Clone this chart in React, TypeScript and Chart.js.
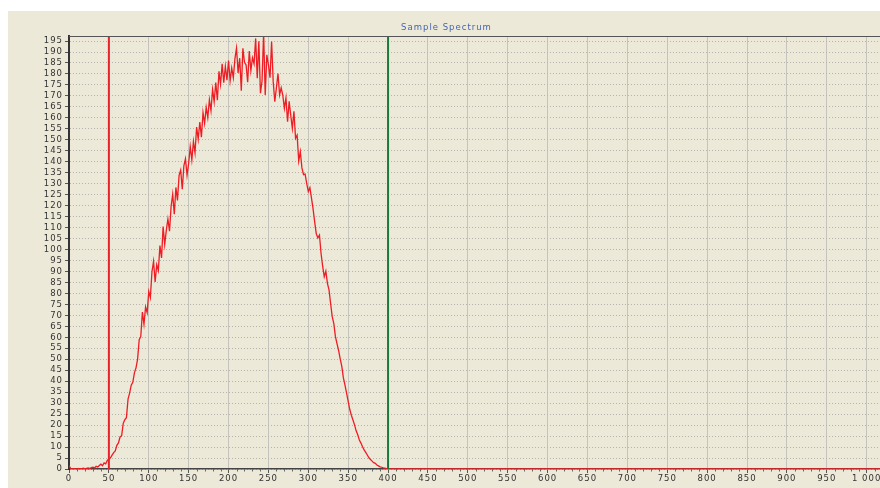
import React, { useEffect, useRef } from 'react';
import { Chart, registerables } from 'chart.js';

Chart.register(...registerables);

// ---- data ----
const chartTitle = 'Sample Spectrum';
const channelStep = 2; // spacing of the sampled channels below
// counts read from the picture, channels 0,2,4,...,400
const counts = [
  1.5, 0.3, 0, 0.2, 0, 0, 0.3, 0, 0.2, 0.4,
  0.1, 0.3, 0.5, 0.2, 0.6, 0.8, 0.5, 1.2, 0.9, 1.6,
  2.2, 1.5, 2.8, 2.4, 3.9, 4.5, 5.1, 6.3, 7.5, 8.2,
  10.8, 11.9, 14.6, 15.2, 20.8, 22.5, 23.4, 31.8, 34.6, 38.2,
  39.5, 43.8, 46.1, 50.1, 58.9, 60.4, 71.5, 66.0, 73.8, 71.2,
  80.9, 78.1, 89.9, 94.6, 85.2, 93.1, 90.4, 101.8, 96.2, 110.5,
  102.3, 108.7, 113.9, 108.4, 119.6, 125.2, 116.1, 128.3, 122.4, 133.8,
  136.2, 127.5, 138.1, 141.3, 133.9, 139.2, 146.9, 140.8, 149.2, 144.1,
  155.8, 150.3, 158.1, 151.2, 162.4, 157.5, 164.8, 160.1, 168.2, 163.3,
  172.9, 167.4, 176.1, 168.0, 181.2, 175.3, 184.6, 176.0, 183.5, 177.2,
  186.1, 176.9, 182.7, 178.3, 186.9, 191.8, 180.5, 187.2, 172.4, 191.7,
  185.3, 184.1, 176.2, 190.4, 181.5, 187.3, 184.6, 196.2, 178.1, 194.9,
  171.2, 176.8, 198.5, 170.4, 188.7, 184.2, 178.3, 194.8, 176.5, 167.4,
  173.6, 180.2, 170.5, 173.7, 170.4, 164.3, 169.1, 158.2, 167.5, 161.1,
  155.2, 163.0, 150.7, 152.1, 140.3, 144.6, 137.2, 134.1, 134.4, 130.1,
  126.4, 128.2, 123.4, 118.5, 112.6, 107.2, 105.3, 106.6, 98.2, 92.4,
  87.6, 90.1, 84.6, 81.6, 75.3, 69.4, 66.2, 60.3, 57.1, 54.0,
  50.2, 46.8, 41.5, 38.2, 34.6, 30.8, 27.1, 24.5, 22.3, 20.1,
  17.4, 15.6, 13.2, 11.8, 10.1, 8.7, 7.6, 6.4, 5.1, 4.3,
  3.6, 2.9, 2.6, 1.8, 1.4, 1.0, 0.8, 0.5, 0.4, 0.2,
  0,
];
const lastChannel = 1023; // counts stay at zero up to the last channel
const lastChannelCount = 0;
const xMin = 0;
const xMax = 1023;
const xLastLabel = 1000;
const xTickStep = 50;
const xMinorStep = 10;
const yMin = 0;
const yMax = 197.3;
const yLastLabel = 195;
const yTickStep = 5;
const lowMarker = 50;
const highMarker = 400;

const FONT = 'DejaVu Sans';
const LETTER_SPACING = '1px';

function formatThousands(v: number): string {
  return String(v).replace(/\B(?=(\d{3})+(?!\d))/g, ' ');
}

const decorPlugin = {
  id: 'decor',
  beforeLayout(chart: any) {
    chart.ctx.letterSpacing = LETTER_SPACING;
  },
  beforeDraw(chart: any) {
    const { ctx, width, height } = chart;
    ctx.letterSpacing = LETTER_SPACING;
    ctx.save();
    ctx.fillStyle = '#ECE9D8';
    ctx.fillRect(0, 0, width, height);
    ctx.restore();
  },
  afterDraw(chart: any) {
    const { ctx, chartArea } = chart;
    const xs = chart.scales.x;
    ctx.save();
    // top frame line
    ctx.strokeStyle = '#555555';
    ctx.lineWidth = 1;
    ctx.beginPath();
    ctx.moveTo(chartArea.left, chartArea.top + 0.5);
    ctx.lineTo(chartArea.right, chartArea.top + 0.5);
    ctx.stroke();
    // minor ticks on x axis
    ctx.strokeStyle = '#666666';
    ctx.beginPath();
    for (let v = xMin; v <= xMax; v += xMinorStep) {
      if (v % xTickStep === 0) continue;
      const px = Math.round(xs.getPixelForValue(v)) + 0.5;
      ctx.moveTo(px, chartArea.bottom);
      ctx.lineTo(px, chartArea.bottom + 2.5);
    }
    ctx.stroke();
    ctx.restore();
  },
};

function stepTicks(from: number, to: number, step: number) {
  const out: { value: number }[] = [];
  for (let v = from; v <= to + 1e-9; v += step) out.push({ value: v });
  return out;
}

export default function App() {
  const ref = useRef<HTMLCanvasElement | null>(null);

  useEffect(() => {
    if (!ref.current) return;
    const spectrum = counts.map((c, i) => ({ x: i * channelStep, y: c }));
    spectrum.push({ x: lastChannel, y: lastChannelCount });

    const chart = new Chart(ref.current, {
      type: 'line',
      data: {
        datasets: [
          {
            label: 'low',
            data: [
              { x: lowMarker, y: yMin },
              { x: lowMarker, y: yMax },
            ],
            borderColor: '#e8202a',
            borderWidth: 2,
            pointRadius: 0,
          },
          {
            label: 'high',
            data: [
              { x: highMarker, y: yMin },
              { x: highMarker, y: yMax },
            ],
            borderColor: '#17793a',
            borderWidth: 2,
            pointRadius: 0,
          },
          {
            label: 'spectrum',
            data: spectrum,
            borderColor: '#ee1c24',
            borderWidth: 1.3,
            pointRadius: 0,
            tension: 0,
          },
        ],
      },
      options: {
        animation: false,
        responsive: false,
        devicePixelRatio: 1,
        parsing: false as any,
        layout: { padding: { left: 0, right: 33, top: 0, bottom: 0 } },
        plugins: {
          legend: { display: false },
          tooltip: { enabled: false },
          title: {
            display: true,
            text: chartTitle,
            color: '#4464b4',
            font: { family: FONT, size: 8.5, weight: 'normal' },
            padding: { top: 11.9, bottom: 2.9 },
          },
        },
        scales: {
          x: {
            type: 'linear',
            min: xMin,
            max: xMax,
            afterBuildTicks: (s: any) => {
              s.ticks = stepTicks(xMin, xLastLabel, xTickStep);
            },
            afterFit: (s: any) => {
              s.height = 19;
            },
            ticks: {
              autoSkip: false,
              maxRotation: 0,
              color: '#333333',
              padding: 1,
              font: { family: FONT, size: 8.5 },
              callback: (v: any) => formatThousands(Number(v)),
            },
            grid: {
              color: '#c4c4bc',
              lineWidth: 1,
              tickLength: 4,
              tickColor: '#555555',
            },
            border: { color: '#444444', width: 1.5 },
          },
          y: {
            type: 'linear',
            min: yMin,
            max: yMax,
            afterBuildTicks: (s: any) => {
              s.ticks = stepTicks(yMin, yLastLabel, yTickStep);
            },
            afterFit: (s: any) => {
              s.width = 61;
            },
            ticks: {
              autoSkip: false,
              color: '#333333',
              padding: 2,
              font: { family: FONT, size: 8.5 },
            },
            grid: {
              color: '#b4b4ac',
              lineWidth: 1,
              tickLength: 4,
              tickColor: '#555555',
            },
            border: { color: '#333333', width: 2, dash: [1, 2] },
          },
        },
      },
      plugins: [decorPlugin],
    });
    return () => chart.destroy();
  }, []);

  return (
    <div
      style={{
        position: 'fixed',
        left: 8,
        top: 11,
        width: 872,
        height: 477,
        overflow: 'hidden',
      }}
    >
      <canvas ref={ref} width={910} height={477} style={{ display: 'block', width: 910, height: 477 }} />
    </div>
  );
}
